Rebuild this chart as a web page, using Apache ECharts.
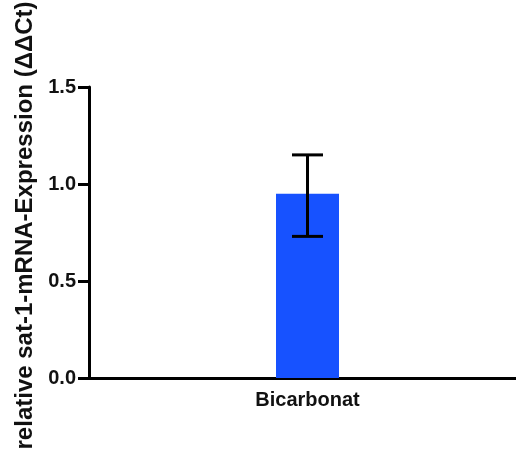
<!DOCTYPE html>
<html>
<head>
<meta charset="utf-8">
<script src="https://cdn.jsdelivr.net/npm/echarts@6/dist/echarts.min.js"></script>
<style>
html,body{margin:0;padding:0;background:#fff;}
#chart{width:516px;height:450px;}
</style>
</head>
<body>
<div id="chart"></div>
<script>
var categories = ['Bicarbonat'];
var means = [0.95];
var errLow = [0.73];
var errHigh = [1.15];
var yTicks = [0, 0.5, 1.0, 1.5];
var yTitle = 'relative sat-1-mRNA-Expression (\u0394\u0394Ct)';

var FONT = '"Liberation Sans", Arial, sans-serif';
var chart = echarts.init(document.getElementById('chart'));
var errData = categories.map(function (c, i) { return [i, errLow[i], errHigh[i]]; });

chart.setOption({
  animation: false,
  backgroundColor: '#fff',
  grid: { left: 89, right: -10, top: 87, bottom: 72, containLabel: false, outerBoundsMode: 'none' },
  xAxis: {
    type: 'category',
    data: categories,
    axisLine: { lineStyle: { color: '#000', width: 3 } },
    axisTick: { show: false },
    axisLabel: { color: '#111', fontFamily: FONT, fontWeight: 'bold', fontSize: 20, margin: 12 }
  },
  yAxis: {
    type: 'value',
    min: yTicks[0],
    max: yTicks[yTicks.length - 1],
    interval: 0.5,
    name: yTitle,
    nameLocation: 'middle',
    nameGap: 52,
    nameTextStyle: { color: '#111', fontFamily: FONT, fontWeight: 'bold', fontSize: 24, padding: [0, 0, 0, 14] },
    axisLine: { show: true, lineStyle: { color: '#000', width: 3 } },
    axisTick: { show: true, length: 11, lineStyle: { color: '#000', width: 3 } },
    splitLine: { show: false },
    axisLabel: {
      color: '#111', fontFamily: FONT, fontWeight: 'bold', fontSize: 20, margin: 13,
      formatter: function (v) { return v.toFixed(1); }
    }
  },
  series: [
    {
      type: 'bar',
      data: means,
      barWidth: 63,
      itemStyle: { color: '#1752FF' }
    },
    {
      type: 'custom',
      data: errData,
      z: 10,
      renderItem: function (params, api) {
        var x = api.value(0);
        var lo = api.coord([x, api.value(1)]);
        var hi = api.coord([x, api.value(2)]);
        var hw = 15.5;
        var st = { stroke: '#000', lineWidth: 3, fill: null };
        return {
          type: 'group',
          children: [
            { type: 'line', shape: { x1: hi[0], y1: hi[1], x2: lo[0], y2: lo[1] }, style: st },
            { type: 'line', shape: { x1: hi[0] - hw, y1: hi[1], x2: hi[0] + hw, y2: hi[1] }, style: st },
            { type: 'line', shape: { x1: lo[0] - hw, y1: lo[1], x2: lo[0] + hw, y2: lo[1] }, style: st }
          ]
        };
      }
    }
  ]
});
</script>
</body>
</html>
